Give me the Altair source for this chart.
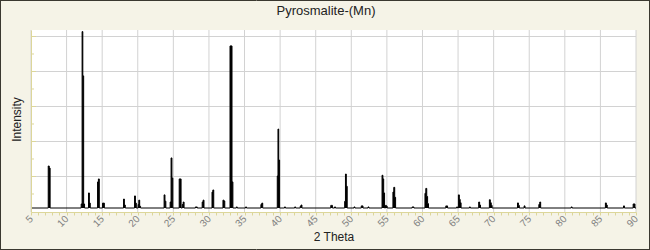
import altair as alt
import pandas as pd

# ---- data (2-theta position, relative intensity) ----
peak_x = [7.42, 7.56, 12.05, 12.18, 12.28, 12.40, 13.08, 13.20, 14.35, 14.47,
          15.05, 15.18, 18.00, 18.12, 19.55, 19.67, 20.05, 20.15, 20.27, 23.70,
          23.82, 24.55, 24.68, 24.80, 25.82, 25.96, 26.25, 26.38, 28.10, 28.23,
          29.05, 29.18, 30.43, 30.55, 31.97, 32.10, 32.96, 33.10, 33.24, 33.85,
          35.15, 37.30, 37.43, 39.60, 39.70, 39.80, 40.62, 42.05, 42.82, 42.94,
          47.12, 47.22, 47.65, 49.07, 49.18, 49.30, 50.38, 51.40, 51.52, 52.35,
          54.32, 54.44, 54.55, 54.80, 54.92, 55.85, 55.97, 56.10, 58.55, 58.67,
          60.35, 60.47, 60.60, 60.72, 63.28, 63.40, 64.80, 65.05, 65.18, 65.30,
          66.60, 67.90, 68.03, 69.40, 69.53, 69.66, 73.35, 73.48, 74.28, 76.35,
          76.48, 80.90, 85.70, 85.83, 88.25, 89.60, 89.73]
peak_i = [26.0, 24.8, 4.3, 102.8, 77.5, 4.3, 10.6, 4.8, 16.9, 18.6,
          4.8, 4.8, 7.1, 3.7, 8.9, 4.8, 4.0, 6.5, 3.0, 9.5,
          5.9, 5.4, 30.6, 19.1, 18.6, 18.6, 4.0, 5.4, 2.6, 2.6,
          5.4, 6.5, 11.1, 12.3, 6.5, 6.0, 94.6, 94.6, 16.9, 2.6,
          2.6, 4.0, 4.8, 20.3, 47.1, 29.4, 2.6, 2.6, 3.0, 3.7,
          3.5, 3.5, 2.6, 5.8, 21.4, 14.4, 2.6, 3.2, 3.2, 2.6,
          20.7, 18.6, 10.6, 3.5, 3.0, 11.1, 13.8, 8.1, 2.6, 2.6,
          10.4, 13.2, 8.6, 4.5, 3.2, 3.2, 2.6, 9.5, 6.9, 5.0,
          2.6, 5.4, 3.7, 6.7, 5.0, 3.5, 4.9, 3.5, 3.2, 4.0,
          5.4, 2.6, 4.9, 3.7, 3.2, 4.3, 4.3]
baseline_level = 2.0
x_min, x_max = 5, 90
y_min, y_max = -0.2857, 103.714
x_ticks = list(range(5, 91))
x_grid = list(range(5, 91, 5))
y_grid = [20, 40, 60, 80, 100]
y_major_ticks = [20, 40, 60, 80, 100]
y_minor_ticks = [10, 30, 50, 70, 90]
chart_title = "Pyrosmalite-(Mn)"

# ---- build the stepped profile from the peak list ----
step = 0.125
xs, ys = [x_min], [baseline_level]
for k, (px, pi) in enumerate(zip(peak_x, peak_i)):
    xs.append(px)
    ys.append(pi)
    nxt = peak_x[k + 1] if k + 1 < len(peak_x) else None
    if nxt is None or nxt - px > step * 1.5:
        xs.append(px + step)
        ys.append(baseline_level)
xs.append(x_max)
ys.append(baseline_level)
profile = pd.DataFrame({"theta": xs, "intensity": ys,
                        "base": [baseline_level] * len(xs)})

PLOT_W, PLOT_H = 605, 182
PAD = {"left": 31, "top": 30, "right": 14, "bottom": 38}
YELLOW = "#DCD69A"
GRID = "#D2D2D2"
TXT = "#222222"
FRAME = "#3A3830"
FONT = "Liberation Sans"

xscale = alt.Scale(domain=[x_min, x_max], nice=False, zero=False)
yscale = alt.Scale(domain=[y_min, y_max], nice=False, zero=False)

xaxis = alt.Axis(values=x_ticks,
                 labelExpr="datum.value % 5 === 0 ? datum.label : ''",
                 grid=False, domainColor=YELLOW, tickColor=YELLOW,
                 tickSize=3, labelAngle=315, labelAlign="right",
                 labelBaseline="middle", labelFontSize=10,
                 labelColor="#808080", labelPadding=2,
                 labelOverlap=False, labelFlush=False, labelFont=FONT,
                 title="2 Theta", titleFontSize=12,
                 titleFontWeight="normal", titleColor=TXT,
                 titleFont=FONT, titleY=28,
                 titleBaseline="alphabetic", zindex=1)
yaxis = alt.Axis(values=[0], ticks=False, labels=False, grid=False,
                 domainColor=YELLOW, title="Intensity",
                 titleFontSize=12, titleFontWeight="normal",
                 titleColor=TXT, titleFont=FONT, titleAngle=270,
                 titleX=-11, titleY=89, titleAlign="center",
                 titleBaseline="alphabetic", zindex=1)

one = pd.DataFrame({"a": [0]})

plot_bg = alt.Chart(one).mark_rect(color="white").encode(
    x=alt.value(0), x2=alt.value(PLOT_W), y=alt.value(0), y2=alt.value(PLOT_H))

ygrid = alt.Chart(pd.DataFrame({"v": y_grid})).mark_rule(
    color=GRID, strokeWidth=1).encode(
    y=alt.Y("v:Q", scale=yscale, axis=yaxis),
    x=alt.value(0), x2=alt.value(PLOT_W))

xgrid = alt.Chart(pd.DataFrame({"v": x_grid})).mark_rule(
    color=GRID, strokeWidth=1).encode(
    x=alt.X("v:Q", scale=xscale, axis=xaxis),
    y=alt.value(0), y2=alt.value(PLOT_H))

fill = alt.Chart(profile).mark_area(
    color="black", opacity=1, interpolate="step-after", clip=True).encode(
    x=alt.X("theta:Q", scale=xscale, axis=xaxis),
    y=alt.Y("intensity:Q", scale=yscale, axis=yaxis),
    y2="base:Q")

line = alt.Chart(profile).mark_line(
    color="black", strokeWidth=1, interpolate="step-after", clip=True).encode(
    x=alt.X("theta:Q", scale=xscale, axis=xaxis),
    y=alt.Y("intensity:Q", scale=yscale, axis=yaxis),
    order=alt.Order("theta:Q"))

major = alt.Chart(pd.DataFrame({"v": y_major_ticks})).mark_rule(
    color=YELLOW, strokeWidth=1).encode(
    y=alt.Y("v:Q", scale=yscale, axis=yaxis),
    x=alt.value(0), x2=alt.value(5))

minor = alt.Chart(pd.DataFrame({"v": y_minor_ticks})).mark_rule(
    color=YELLOW, strokeWidth=1).encode(
    y=alt.Y("v:Q", scale=yscale, axis=yaxis),
    x=alt.value(0), x2=alt.value(3))

title_text = alt.Chart(pd.DataFrame({"t": [chart_title]})).mark_text(
    font=FONT, fontSize=13, color=TXT, align="center",
    baseline="alphabetic").encode(
    text="t:N", x=alt.value(295), y=alt.value(-15))

# outer 1px frame of the whole picture (four rules)
L, T = -PAD["left"] + 0.5, -PAD["top"] + 0.5
R, B = PLOT_W + PAD["right"] - 0.5, PLOT_H + PAD["bottom"] - 0.5
frame_l = alt.Chart(one).mark_rule(color=FRAME, strokeWidth=1).encode(
    x=alt.value(L), y=alt.value(T - 0.5), y2=alt.value(B + 0.5))
frame_r = alt.Chart(one).mark_rule(color=FRAME, strokeWidth=1).encode(
    x=alt.value(R), y=alt.value(T - 0.5), y2=alt.value(B + 0.5))
frame_t = alt.Chart(one).mark_rule(color=FRAME, strokeWidth=1).encode(
    y=alt.value(T), x=alt.value(L - 0.5), x2=alt.value(R + 0.5))
frame_b = alt.Chart(one).mark_rule(color=FRAME, strokeWidth=1).encode(
    y=alt.value(B), x=alt.value(L - 0.5), x2=alt.value(R + 0.5))

chart = alt.layer(plot_bg, ygrid, xgrid, fill, line, major, minor, title_text,
                  frame_l, frame_r, frame_t, frame_b).properties(
    width=PLOT_W, height=PLOT_H,
    autosize=alt.AutoSizeParams(type="none"),
    padding=PAD,
).configure(background="#F5F3E7").configure_view(stroke=None)

chart.save("out.html", embed_options={"renderer": "svg", "actions": False})
